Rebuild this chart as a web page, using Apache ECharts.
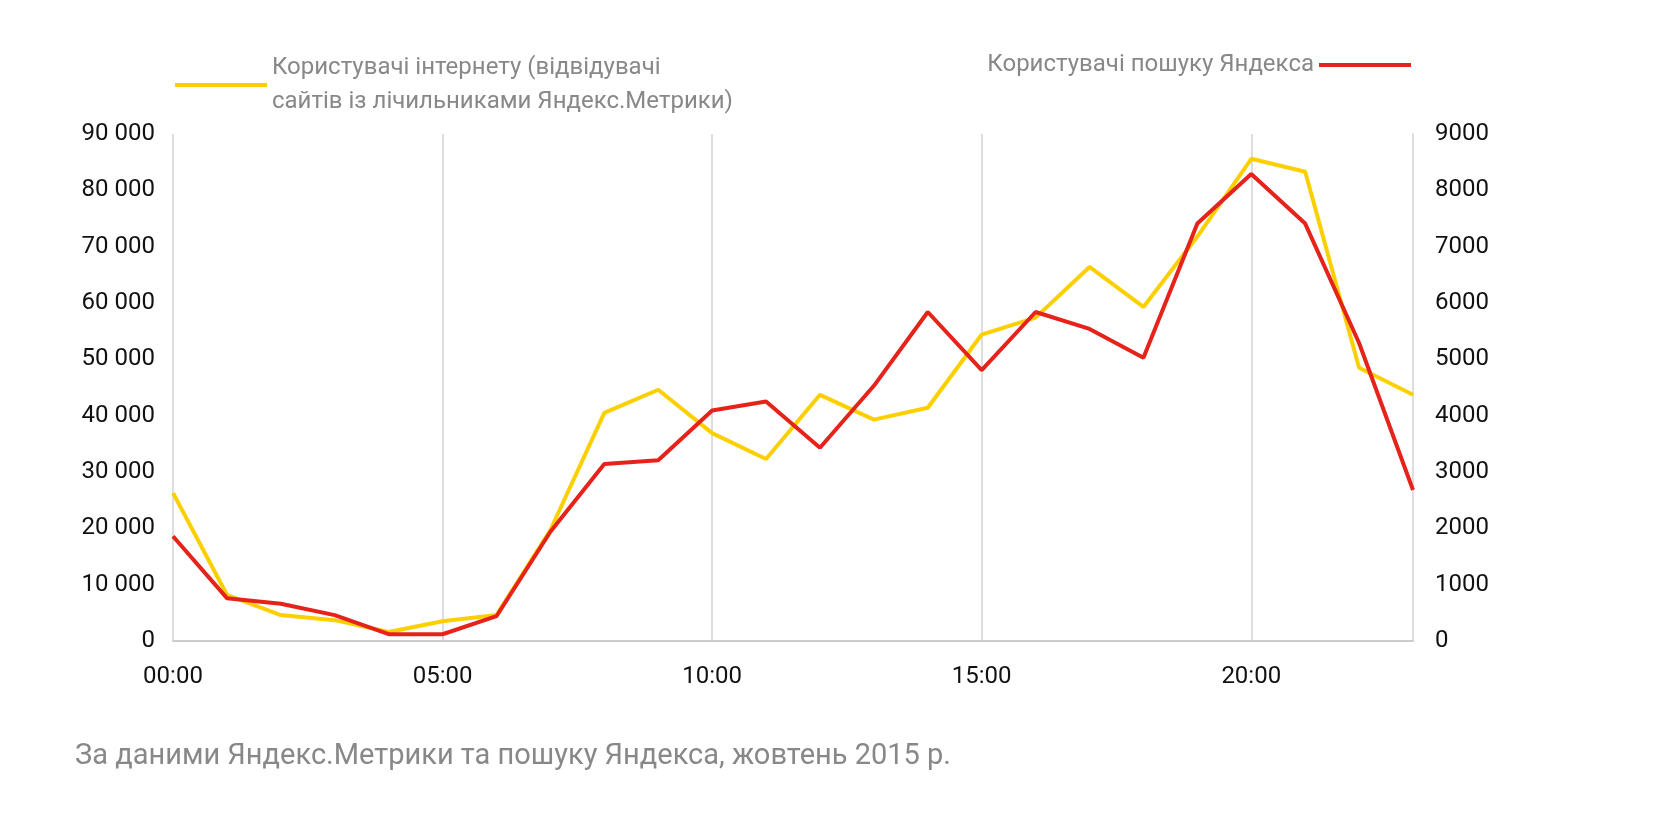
<!DOCTYPE html><html><head><meta charset="utf-8"><script src="https://cdn.jsdelivr.net/npm/echarts@6/dist/echarts.min.js"></script>
<style>body{margin:0;background:#fff}#c{width:1656px;height:828px}</style></head><body><div id="c"></div><script>
const hours=['00:00','01:00','02:00','03:00','04:00','05:00','06:00','07:00','08:00','09:00','10:00','11:00','12:00','13:00','14:00','15:00','16:00','17:00','18:00','19:00','20:00','21:00','22:00','23:00'];
const internetUsers=[26300,8200,4600,3700,1600,3500,4600,19700,40500,44600,36900,32300,43700,39300,41400,54400,57400,66400,59300,71800,85600,83300,48500,43700];
const searchUsers=[1860,760,660,460,120,120,440,1940,3140,3210,4090,4250,3430,4530,5840,4810,5840,5540,5030,7410,8290,7410,5290,2680];
const nameA='Користувачі інтернету (відвідувачі\nсайтів із лічильниками Яндекс.Метрики)';
const nameB='Користувачі пошуку Яндекса';
const ch=echarts.init(document.getElementById('c'));
const lab={color:'#111',fontSize:24,fontFamily:'Roboto'};
ch.setOption({
animation:false,
textStyle:{fontFamily:'Roboto'},
grid:{left:173,right:243,top:134,bottom:187},
legend:[
{data:[nameA],left:170,top:46,itemWidth:92,itemHeight:4,icon:'rect',itemGap:10,textStyle:{color:'#888',fontSize:24,lineHeight:34,fontFamily:'Roboto'}},
{data:[nameB],right:240,top:48,align:'right',itemWidth:92,itemHeight:4,icon:'rect',textStyle:{color:'#888',fontSize:24,fontFamily:'Roboto'}}],
xAxis:{type:'category',data:hours,boundaryGap:false,
axisLine:{lineStyle:{color:'#ccc',width:2}},axisTick:{show:false},
axisLabel:Object.assign({interval:4,margin:24},lab),
splitLine:{show:true,interval:(i)=>i%5===0||i===23,lineStyle:{color:'#ddd',width:2}}},
yAxis:[
{type:'value',min:0,max:90000,interval:10000,axisLine:{show:false},axisTick:{show:false},splitLine:{show:false},
axisLabel:Object.assign({margin:18,formatter:v=>v===0?'0':(v/1000)+' 000'},lab)},
{type:'value',min:0,max:9000,interval:1000,axisLine:{show:true,lineStyle:{color:'#ddd',width:2}},axisTick:{show:false},splitLine:{show:false},
axisLabel:Object.assign({margin:22,formatter:v=>String(v)},lab)}],
series:[
{name:nameA,type:'line',data:internetUsers,yAxisIndex:0,symbol:'none',lineStyle:{color:'#fcd000',width:4},itemStyle:{color:'#fcd000'}},
{name:nameB,type:'line',data:searchUsers,yAxisIndex:1,symbol:'none',lineStyle:{color:'#e5231b',width:4},itemStyle:{color:'#e5231b'}}],
graphic:[{type:'text',left:75,top:742,style:{text:'За даними Яндекс.Метрики та пошуку Яндекса, жовтень 2015 р.',fill:'#888',fontSize:29,fontFamily:'Roboto'}}]
});
</script></body></html>
